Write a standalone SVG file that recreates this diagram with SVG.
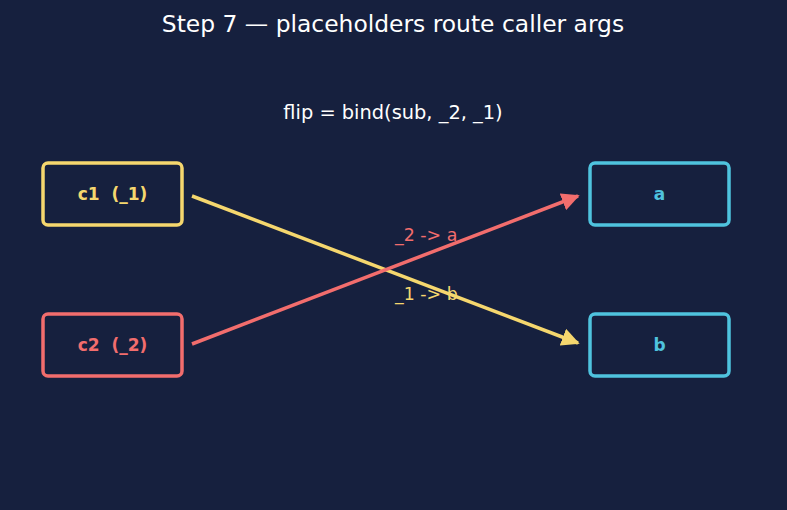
<svg xmlns="http://www.w3.org/2000/svg" width="787" height="510" viewBox="0 0 787 510">
<style>
text{font-family:"DejaVu Sans",sans-serif}
.box{fill:#16203e;stroke-width:3.5}
.lbl{font-size:17px;font-weight:bold;text-anchor:middle;white-space:pre}
.edge{fill:none;stroke-width:3.5}
.el{font-size:17.4px}
</style>
<defs>
<marker id="ar" viewBox="0 0 10 10" refX="9" refY="5" markerWidth="18" markerHeight="18" orient="auto" markerUnits="userSpaceOnUse"><path d="M0,0L10,5L0,10z" fill="#f26d6d"/></marker>
<marker id="ay2" viewBox="0 0 10 10" refX="9" refY="5" markerWidth="18" markerHeight="18" orient="auto" markerUnits="userSpaceOnUse"><path d="M0,0L10,5L0,10z" fill="#f5d76e"/></marker>
</defs>
<rect width="787" height="510" fill="#16203e"/>
<text x="393" y="32" font-size="23.4" fill="#ffffff" text-anchor="middle">Step 7 — placeholders route caller args</text>
<text x="393" y="119" font-size="19.4" fill="#ffffff" text-anchor="middle">flip = bind(sub, _2, _1)</text>
<g id="edges">
<line class="edge" x1="192" y1="196" x2="578" y2="343" stroke="#f5d76e" marker-end="url(#ay2)"/>
<line class="edge" x1="192" y1="344" x2="578" y2="196" stroke="#f26d6d" marker-end="url(#ar)"/>
<text class="el" x="395" y="241" fill="#f26d6d">_2 -&gt; a</text>
<text class="el" x="395" y="300" fill="#f5d76e">_1 -&gt; b</text>
</g>
<g id="c1"><rect class="box" x="43" y="163" width="139" height="62" rx="5" stroke="#f5d76e"/><text class="lbl" x="112.5" y="200" fill="#f5d76e" xml:space="preserve">c1  (_1)</text></g>
<g id="c2"><rect class="box" x="43" y="314" width="139" height="62" rx="5" stroke="#f26d6d"/><text class="lbl" x="112.5" y="351" fill="#f26d6d" xml:space="preserve">c2  (_2)</text></g>
<g id="a"><rect class="box" x="590" y="163" width="139" height="62" rx="5" stroke="#4fc3de"/><text class="lbl" x="659.5" y="200" fill="#4fc3de">a</text></g>
<g id="b"><rect class="box" x="590" y="314" width="139" height="62" rx="5" stroke="#4fc3de"/><text class="lbl" x="659.5" y="351" fill="#4fc3de">b</text></g>
</svg>
